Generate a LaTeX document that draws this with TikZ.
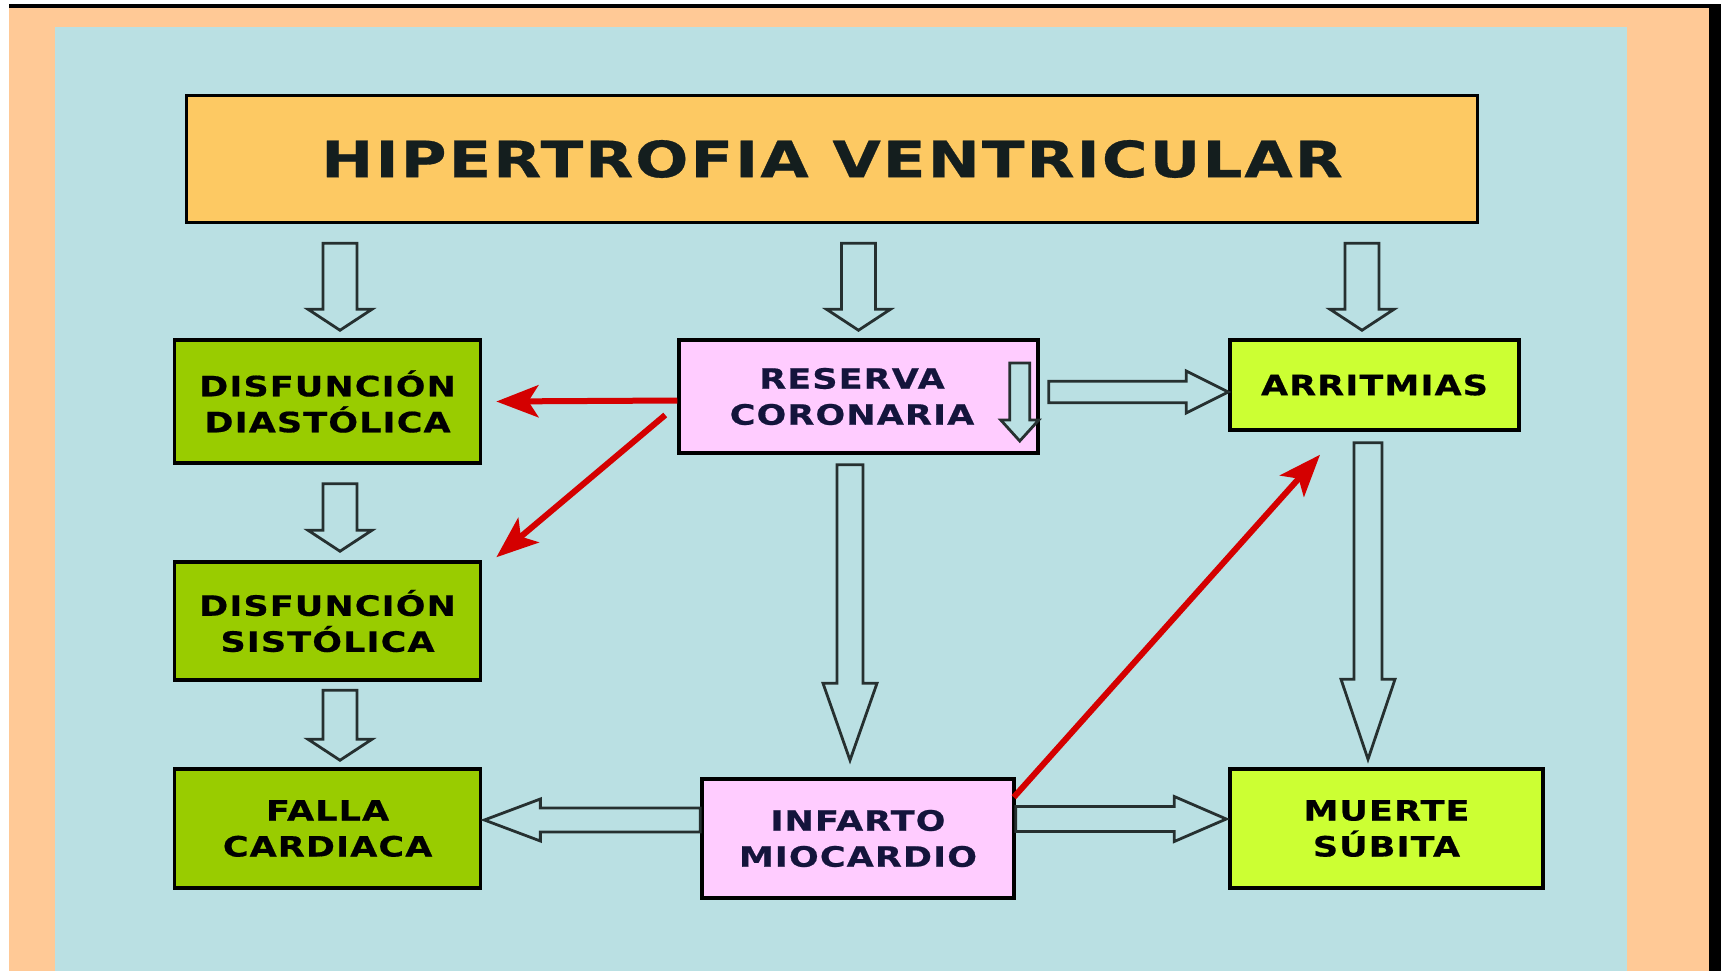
\documentclass[tikz,border=0pt]{standalone}
\usepackage{fontspec}
\newfontfamily\boxfont{DejaVu Sans}[FakeStretch=1.25,LetterSpace=4,FakeBold=0.6]
\usetikzlibrary{calc,arrows.meta}
\definecolor{peach}{HTML}{FFC996}
\definecolor{bgblue}{HTML}{BAE0E3}
\definecolor{titlefill}{HTML}{FDC963}
\definecolor{dkgreen}{HTML}{99CC00}
\definecolor{ltgreen}{HTML}{CCFF33}
\definecolor{pinkfill}{HTML}{FFCCFF}
\definecolor{redarr}{HTML}{D40000}
\definecolor{navy}{HTML}{14143C}
\definecolor{outl}{HTML}{263030}
\definecolor{titletext}{HTML}{141E1E}
\newcommand\hadown[5]{\draw[hollow] let \p1=(#1), \p2=(#2) in (\x1-#3pt,\y1) -- (\x1+#3pt,\y1) -- (\x1+#3pt,\y2+#5pt) -- (\x1+#4pt,\y2+#5pt) -- (\x1,\y2) -- (\x1-#4pt,\y2+#5pt) -- (\x1-#3pt,\y2+#5pt) -- cycle;}
\newcommand\haright[5]{\draw[hollow] let \p1=(#1), \p2=(#2) in (\x1,\y1+#3pt) -- (\x2-#5pt,\y1+#3pt) -- (\x2-#5pt,\y1+#4pt) -- (\x2,\y1) -- (\x2-#5pt,\y1-#4pt) -- (\x2-#5pt,\y1-#3pt) -- (\x1,\y1-#3pt) -- cycle;}
\newcommand\haleft[5]{\draw[hollow] let \p1=(#1), \p2=(#2) in (\x1,\y1+#3pt) -- (\x2+#5pt,\y1+#3pt) -- (\x2+#5pt,\y1+#4pt) -- (\x2,\y1) -- (\x2+#5pt,\y1-#4pt) -- (\x2+#5pt,\y1-#3pt) -- (\x1,\y1-#3pt) -- cycle;}
\begin{document}
\begin{tikzpicture}[x=1pt,y=-1pt,
 box/.style={draw=black, line width=3.5pt, inner sep=0pt, align=center, font=\boxfont\bfseries\fontsize{28}{36}\selectfont},
 greenbox/.style={box, fill=dkgreen, minimum width=306pt},
 limebox/.style={box, fill=ltgreen},
 pinkbox/.style={box, fill=pinkfill, text=navy},
 hollow/.style={draw=outl, line width=2.8pt, line join=miter, fill=bgblue},
 redarrow/.style={draw=redarr, line width=6pt, -{Stealth[length=42pt,width=32pt,inset=10pt]}}]
\useasboundingbox (0,0) rectangle (1721,971);
\fill[white] (0,0) rectangle (1721,971);
\fill[black] (9,4) rectangle (1721,971);
\fill[peach] (9,8) rectangle (1709,971);
\fill[bgblue] (55,27) rectangle (1627,971);

\node[box, fill=titlefill, minimum width=1291pt, minimum height=127pt, text=titletext,
  font=\boxfont\bfseries\fontsize{50}{60}\selectfont] (title) at (832,159) {HIPERTROFIA VENTRICULAR};
\node[greenbox, minimum height=123pt] (dias) at (327.6,401.5) {DISFUNCIÓN\\DIASTÓLICA};
\node[greenbox, minimum height=118pt] (sist) at (327.6,621) {DISFUNCIÓN\\SISTÓLICA};
\node[greenbox, minimum height=119pt] (falla) at (327.6,828.5) {FALLA\\CARDIACA};
\node[pinkbox, minimum width=359pt, minimum height=113pt] (reserva) at (858.5,396.5) {RESERVA\hspace*{13pt}\\CORONARIA\hspace*{13pt}};
\node[pinkbox, minimum width=312pt, minimum height=119pt] (infarto) at (858,838.5) {INFARTO\\MIOCARDIO};
\node[limebox, minimum width=289pt, minimum height=90pt] (arrit) at (1374.5,385) {ARRITMIAS};
\node[limebox, minimum width=313pt, minimum height=119pt] (muerte) at (1386.5,828.5) {MUERTE\\SÚBITA};

\coordinate (a1s) at ($(title.south -| dias.north)+(12.4,19)$);
\coordinate (a1e) at ($(dias.north)+(12.4,-8)$);
\coordinate (a2s) at ($(title.south -| reserva.north)+(0,19)$);
\coordinate (a2e) at ($(reserva.north)+(0,-8)$);
\coordinate (a3s) at ($(title.south -| arrit.north)+(-12.5,19)$);
\coordinate (a3e) at ($(arrit.north)+(-12.5,-8)$);
\coordinate (a4s) at ($(dias.south)+(12.4,19)$);
\coordinate (a4e) at ($(sist.north)+(12.4,-9)$);
\coordinate (a5s) at ($(sist.south)+(12.4,8.5)$);
\coordinate (a5e) at ($(falla.north)+(12.4,-7)$);
\coordinate (a6s) at ($(reserva.south)+(-8.5,10)$);
\coordinate (a6e) at ($(infarto.north)+(-8.5,-17)$);
\coordinate (a7s) at ($(arrit.south)+(-6.5,11)$);
\coordinate (a7e) at ($(muerte.north)+(-18.5,-8)$);
\coordinate (a8s) at ($(reserva.east)+(9,-4.5)$);
\coordinate (a8e) at (arrit.west);
\coordinate (a9s) at ($(infarto.east)+(0,-19.5)$);
\coordinate (a9e) at ($(muerte.west)+(-2,0)$);
\coordinate (a10s) at ($(infarto.west)+(0,-18.5)$);
\coordinate (a10e) at ($(falla.east)+(2,0)$);
\coordinate (a11s) at ($(reserva.east)+(-20,-33.5)$);
\coordinate (a11e) at ($(reserva.east)+(-20,44.5)$);

\hadown{a1s}{a1e}{17}{32}{21}
\hadown{a2s}{a2e}{17}{32}{21}
\hadown{a3s}{a3e}{17}{32}{21}
\hadown{a4s}{a4e}{17}{32}{21}
\hadown{a5s}{a5e}{17}{32}{21}
\hadown{a6s}{a6e}{13}{27}{77}
\hadown{a7s}{a7e}{14}{27}{80}
\haright{a8s}{a8e}{10.8}{21}{42}
\haright{a9s}{a9e}{12.5}{22.5}{52}
\haleft{a10s}{a10e}{12}{21}{56}
\hadown{a11s}{a11e}{10}{19}{21}

\coordinate (r1s) at ($(reserva.west)+(0,4)$);
\coordinate (r1e) at ($(dias.east)+(14,0)$);
\coordinate (r2s) at ($(reserva.west)+(-12,18.5)$);
\coordinate (r2e) at ($(sist.north east)+(14,-3)$);
\coordinate (r3s) at ($(infarto.north east)+(-2,20)$);
\coordinate (r3e) at ($(arrit.south)+(-54.5,23)$);
\draw[redarrow] (r1s) -- (r1e);
\draw[redarrow] (r2s) -- (r2e);
\draw[redarrow] (r3s) -- (r3e);
\end{tikzpicture}
\end{document}
